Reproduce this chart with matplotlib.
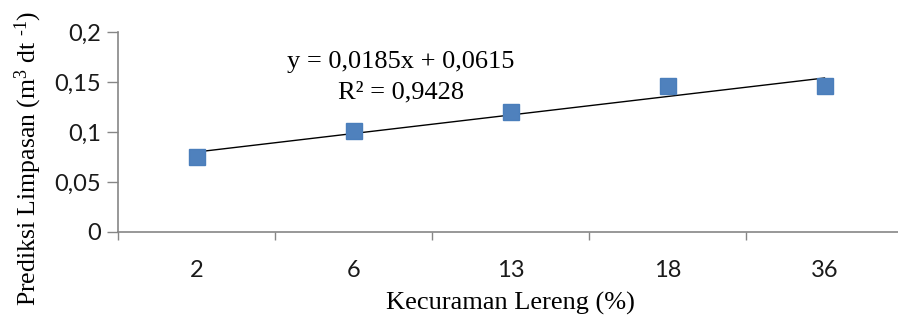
import matplotlib
matplotlib.use("Agg")
import matplotlib.pyplot as plt
import numpy as np

# === DATA ===
categories = ["2", "6", "13", "18", "36"]
values = [0.075, 0.101, 0.120, 0.146, 0.146]
yticks = [0, 0.05, 0.1, 0.15, 0.2]
ytick_labels = ["0", "0,05", "0,1", "0,15", "0,2"]
eq_text = "y = 0,0185x + 0,0615"
r2_text = "R² = 0,9428"
slope, intercept = 0.0185, 0.0615

plt.rcParams['mathtext.fontset'] = 'custom'
plt.rcParams['mathtext.rm'] = 'Liberation Serif'
plt.rcParams['mathtext.it'] = 'Liberation Serif'

W, H, dpi = 898, 322, 100
fig = plt.figure(figsize=(W / dpi, H / dpi), dpi=dpi, facecolor="white")
left, right, top, bottom = 118, 903, 32, 232
ax = fig.add_axes([left / W, 1 - bottom / H, (right - left) / W, (bottom - top) / H])

x = np.arange(1, len(categories) + 1)
ax.plot(x, values, linestyle="none", marker="s", markersize=11.5,
        color="#4F81BD", markeredgecolor="#4A7EBB", zorder=3)
xs = np.array([x[0], x[-1]])
ax.plot(xs, slope * xs + intercept, color="black", linewidth=1.0, zorder=2)

ax.set_xlim(0.5, len(categories) + 0.5)
ax.set_ylim(0, 0.2)
ax.set_yticks(yticks)
ax.set_yticklabels(ytick_labels, fontsize=17, family="Lato", color="#1a1a1a")
ax.set_xticks(x)
ax.set_xticklabels(categories, fontsize=17, family="Lato", color="#1a1a1a")
ax.set_xticks(np.arange(0.5, len(categories) + 1.5, 1), minor=True)
ax.tick_params(axis="x", which="major", length=0, pad=20)
ax.tick_params(axis="x", which="minor", length=6, color="#868686", width=1)
ax.tick_params(axis="y", length=8, color="#868686", width=1, pad=4)

for s in ["top", "right"]:
    ax.spines[s].set_visible(False)
for s in ["left", "bottom"]:
    ax.spines[s].set_color("#868686")
    ax.spines[s].set_linewidth(1.2)

ax.text(2.3, 0.170, eq_text, ha="center", va="center", fontsize=19, family="Liberation Serif")
ax.text(2.3, 0.140, r2_text, ha="center", va="center", fontsize=19, family="Liberation Serif")

ax.set_xlabel("Kecuraman Lereng (%)", fontsize=19, family="Liberation Serif", labelpad=8)
fig.text(28 / W, 1 - 158 / H, r"Prediksi Limpasan (m$^3$ dt $^{\text{-1}}$)",
         rotation=90, ha="center", va="center", fontsize=18.5, family="Liberation Serif")

plt.savefig("out.png", dpi=dpi, facecolor="white")
